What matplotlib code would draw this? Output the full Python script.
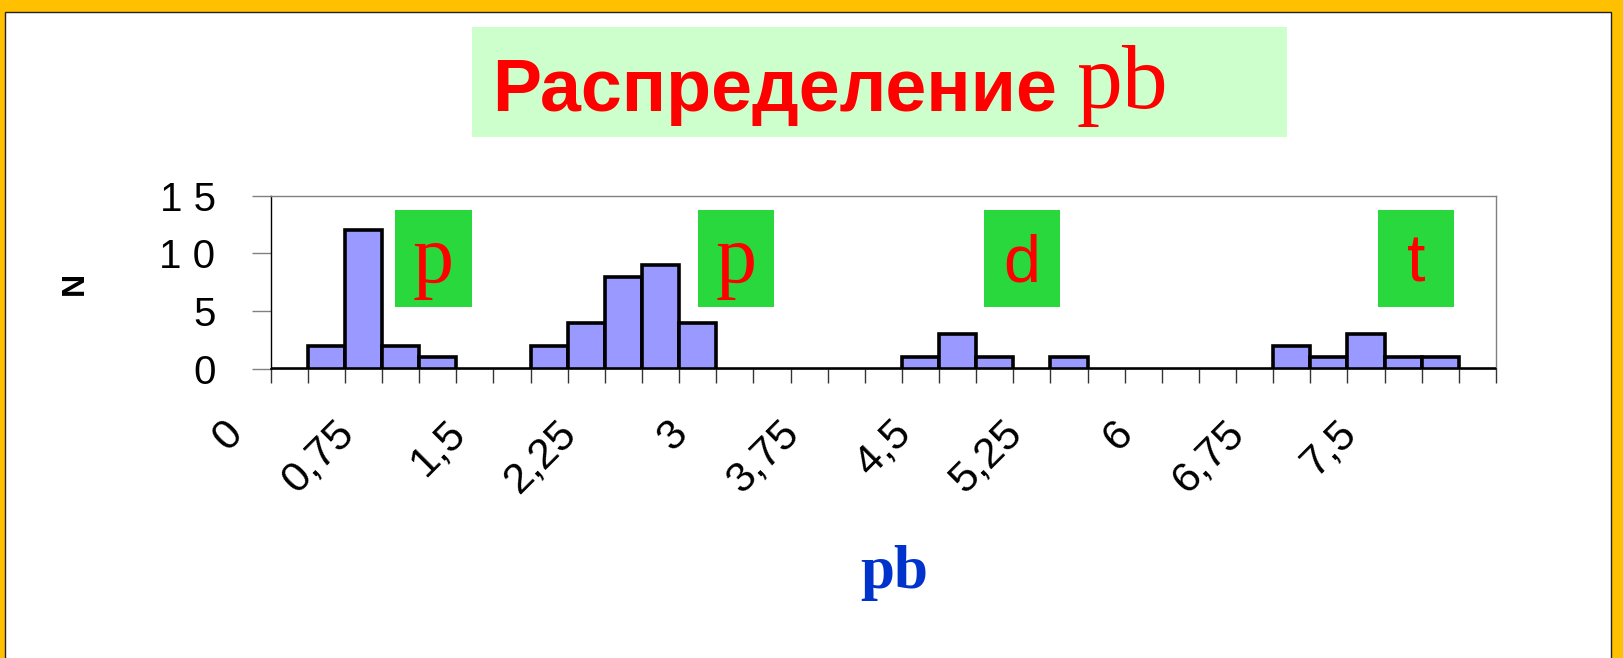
import matplotlib
matplotlib.use("Agg")
import matplotlib.pyplot as plt
import matplotlib.transforms as mtransforms
from matplotlib.patches import Rectangle

# histogram categories (bin values) and counts
bins = [0.0, 0.25, 0.5, 0.75, 1.0, 1.25, 1.5, 1.75, 2.0, 2.25, 2.5, 2.75,
        3.0, 3.25, 3.5, 3.75, 4.0, 4.25, 4.5, 4.75, 5.0, 5.25, 5.5, 5.75,
        6.0, 6.25, 6.5, 6.75, 7.0, 7.25, 7.5, 7.75, 8.0]
counts = [0, 2, 12, 2, 1, 0, 0, 2, 4, 8, 9, 4, 0, 0, 0, 0, 0,
          1, 3, 1, 0, 1, 0, 0, 0, 0, 0, 2, 1, 3, 1, 1, 0]

label_bins = [0.0, 0.75, 1.5, 2.25, 3.0, 3.75, 4.5, 5.25, 6.0, 6.75, 7.5]
x_labels = ['0', '0,75', '1,5', '2,25', '3', '3,75', '4,5', '5,25', '6', '6,75', '7,5']

y_ticks = [0, 5, 10, 15]
y_labels = ['0', '5', '1 0', '1 5']

orb_labels = ['p', 'p', 'd', 't']
orb_fonts = ['Liberation Serif', 'Liberation Serif', 'Liberation Sans', 'Liberation Sans']

W, H = 1624, 658
fig = plt.figure(figsize=(W / 100, H / 100), dpi=100)
fig.patch.set_facecolor('#FFC000')

# white slide with thin dark outline
fig.patches.append(Rectangle((5 / W, -0.01), 1606 / W, (H - 12) / H + 0.01,
                             transform=fig.transFigure, facecolor='white',
                             edgecolor='#222222', linewidth=1.0, zorder=-5))

# title box
fig.patches.append(Rectangle((472 / W, 1 - 136.7 / H), 815 / W, 109.4 / H,
                             transform=fig.transFigure, facecolor='#CCFFCC',
                             edgecolor='none', zorder=-4))
t1 = fig.text(492 / W, 1 - 110.7 / H, 'Распределение', color='red',
              fontsize=53, fontweight='bold', family='Liberation Sans',
              ha='left', va='baseline')
renderer = fig.canvas.get_renderer()
bb = t1.get_window_extent(renderer=renderer)
fig.text(bb.x1 / W + 20 / W, 1 - 108 / H, 'pb', color='red', fontsize=66,
         family='Liberation Serif', ha='left', va='baseline')

ax = fig.add_axes([270.7 / W, 1 - 369 / H, 1225.3 / W, 173.3 / H])
ax.set_facecolor('none')
x = list(range(len(bins)))
ax.bar([i + 0.5 for i in x], counts, width=1.0, color='#9999FF',
       edgecolor='black', linewidth=2.6, zorder=3)
ax.set_xlim(0, len(bins))
ax.set_ylim(0, 15)

for side in ['top', 'right']:
    ax.spines[side].set_color('#808080')
    ax.spines[side].set_linewidth(1.0)
ax.spines['left'].set_color('black')
ax.spines['bottom'].set_color('black')
ax.spines['left'].set_linewidth(1.0)
ax.spines['bottom'].set_linewidth(1.2)

ax.set_yticks(y_ticks)
ax.set_yticklabels(y_labels, fontsize=29, family='Liberation Sans')
ax.tick_params(axis='y', direction='out', length=13.7, width=1.0,
               color='#808080', pad=26)
ax.set_xticks(range(len(bins) + 1))
ax.set_xticklabels([])
ax.tick_params(axis='x', direction='out', length=10, width=1.0, color='#333333')

# rotated category labels
offset = mtransforms.ScaledTranslation(-53 / 100, -58 / 100, fig.dpi_scale_trans)
trans = mtransforms.blended_transform_factory(ax.transData, ax.transAxes) + offset
for b, lab in zip(label_bins, x_labels):
    i = bins.index(b)
    ax.text(i + 0.5, 0, lab, transform=trans, rotation=45, rotation_mode='anchor',
            ha='right', va='center', fontsize=31, family='Liberation Sans',
            clip_on=False)

# orbital marker boxes
box_x = [3.36, 11.51, 19.21, 29.83]
for bx, lab, fam in zip(box_x, orb_labels, orb_fonts):
    ax.add_patch(Rectangle((bx, 5.39), 2.05, 8.37, facecolor='#28D83C',
                           edgecolor='none', zorder=4, clip_on=False))
    size = 59 if fam == 'Liberation Serif' else 48
    ax.text(bx + 1.025, 7.57, lab, color='red', fontsize=size, family=fam,
            ha='center', va='baseline', zorder=5)

fig.text(74.5 / W, 1 - 283 / H, 'N', rotation=90, fontsize=23, fontweight='bold',
         family='Liberation Sans', ha='center', va='center')
fig.text(894 / W, 1 - 573 / H, 'pb', color='#0033CC', fontsize=44,
         fontweight='bold', family='Liberation Serif', ha='center', va='center')

fig.savefig('out.png', dpi=100, facecolor=fig.get_facecolor())
